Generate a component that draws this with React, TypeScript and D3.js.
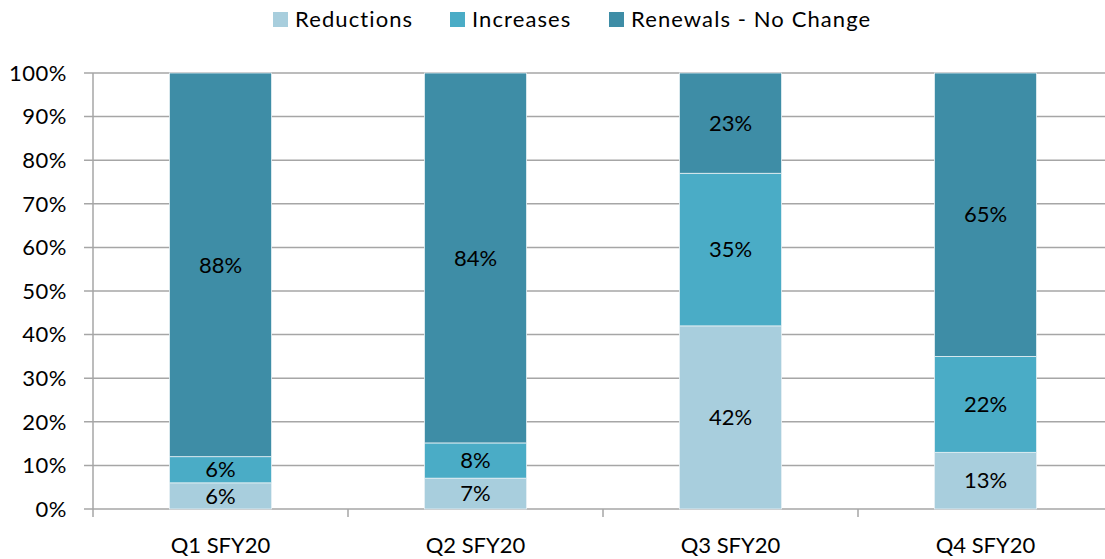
import * as d3 from "d3";
import React, { useEffect, useRef } from "react";

const categories = ["Q1 SFY20", "Q2 SFY20", "Q3 SFY20", "Q4 SFY20"];
const seriesNames = ["Reductions", "Increases", "Renewals - No Change"];
const reductions = [6, 7, 42, 13];
const increases = [6, 8, 35, 22];
const renewals = [88, 84, 23, 65];
const seriesColors = ["#a8cedd", "#4aacc6", "#3e8da6"];
const yTicks = [0, 10, 20, 30, 40, 50, 60, 70, 80, 90, 100];

const W = 1105;
const H = 559;
const FONT = "Lato, 'Open Sans', sans-serif";

export default function App() {
  const ref = useRef<SVGSVGElement>(null);

  useEffect(() => {
    const svg = d3.select(ref.current);
    svg.selectAll("*").remove();

    const left = 93, top = 73, bottom = 509;
    const bandW = 255;

    const x = d3.scaleBand<string>()
      .domain(categories)
      .range([left, left + bandW * categories.length])
      .paddingInner(0.6)
      .paddingOuter(0.3);
    const y = d3.scaleLinear().domain([0, 100]).range([bottom, top]);

    // gridlines
    svg.append("g").selectAll("line")
      .data(yTicks)
      .enter()
      .append("line")
      .attr("x1", left - 9)
      .attr("x2", W)
      .attr("y1", d => y(d))
      .attr("y2", d => y(d))
      .attr("stroke", "#a6a6a6")
      .attr("stroke-width", 1.5);

    svg.append("g").selectAll("text")
      .data(yTicks)
      .enter()
      .append("text")
      .attr("x", left - 26)
      .attr("y", d => y(d))
      .attr("dy", "0.35em")
      .attr("text-anchor", "end")
      .attr("font-family", FONT)
      .attr("font-size", 22)
      .attr("letter-spacing", 0.5)
      .attr("fill", "#000")
      .text(d => d + "%");

    // y axis line
    svg.append("line")
      .attr("x1", left).attr("x2", left)
      .attr("y1", top).attr("y2", bottom + 8)
      .attr("stroke", "#a6a6a6").attr("stroke-width", 1.5);

    // category ticks
    svg.append("g").selectAll("line")
      .data(d3.range(1, categories.length + 1))
      .enter()
      .append("line")
      .attr("x1", d => left + d * bandW)
      .attr("x2", d => left + d * bandW)
      .attr("y1", bottom)
      .attr("y2", bottom + 8)
      .attr("stroke", "#a6a6a6")
      .attr("stroke-width", 1.5);

    const table = categories.map((c, i) => {
      const total = reductions[i] + increases[i] + renewals[i];
      return {
        cat: c,
        s0: (reductions[i] / total) * 100,
        s1: (increases[i] / total) * 100,
        s2: (renewals[i] / total) * 100,
        v0: reductions[i],
        v1: increases[i],
        v2: renewals[i],
      };
    });
    const stack = d3.stack<any>().keys(["s0", "s1", "s2"]);
    const layers = stack(table);

    layers.forEach((layer, li) => {
      const g = svg.append("g");
      g.selectAll("rect")
        .data(layer)
        .enter()
        .append("rect")
        .attr("x", d => x(d.data.cat)!)
        .attr("width", x.bandwidth())
        .attr("y", d => y(d[1]))
        .attr("height", d => y(d[0]) - y(d[1]))
        .attr("fill", seriesColors[li])
        .attr("stroke", "#e6f0f4")
        .attr("stroke-width", 0.8);
      g.selectAll("text")
        .data(layer)
        .enter()
        .append("text")
        .attr("x", d => x(d.data.cat)! + x.bandwidth() / 2)
        .attr("y", d => y((d[0] + d[1]) / 2))
        .attr("dy", "0.35em")
        .attr("text-anchor", "middle")
        .attr("font-family", FONT)
        .attr("font-size", 22)
        .attr("fill", "#000")
        .text(d => d.data["v" + li] + "%");
    });

    // category labels
    svg.append("g").selectAll("text")
      .data(categories)
      .enter()
      .append("text")
      .attr("x", d => x(d)! + x.bandwidth() / 2)
      .attr("y", 545)
      .attr("dy", "0.35em")
      .attr("text-anchor", "middle")
      .attr("font-family", FONT)
      .attr("font-size", 22)
      .attr("fill", "#000")
      .text(d => d);

    // legend
    const legendX = [273, 450, 609];
    const lg = svg.append("g").selectAll("g")
      .data(seriesNames)
      .enter()
      .append("g")
      .attr("transform", (d, i) => `translate(${legendX[i]},12)`);
    lg.append("rect")
      .attr("width", 15).attr("height", 15)
      .attr("fill", (d, i) => seriesColors[i]);
    lg.append("text")
      .attr("x", 22).attr("y", 7.5).attr("dy", "0.35em")
      .attr("font-family", FONT)
      .attr("font-size", 22)
      .attr("letter-spacing", 1.1)
      .attr("fill", "#000")
      .text(d => d);
  }, []);

  return (
    <svg
      ref={ref}
      width={W}
      height={H}
      style={{ position: "absolute", left: 0, top: 0, background: "#fff" }}
    />
  );
}
